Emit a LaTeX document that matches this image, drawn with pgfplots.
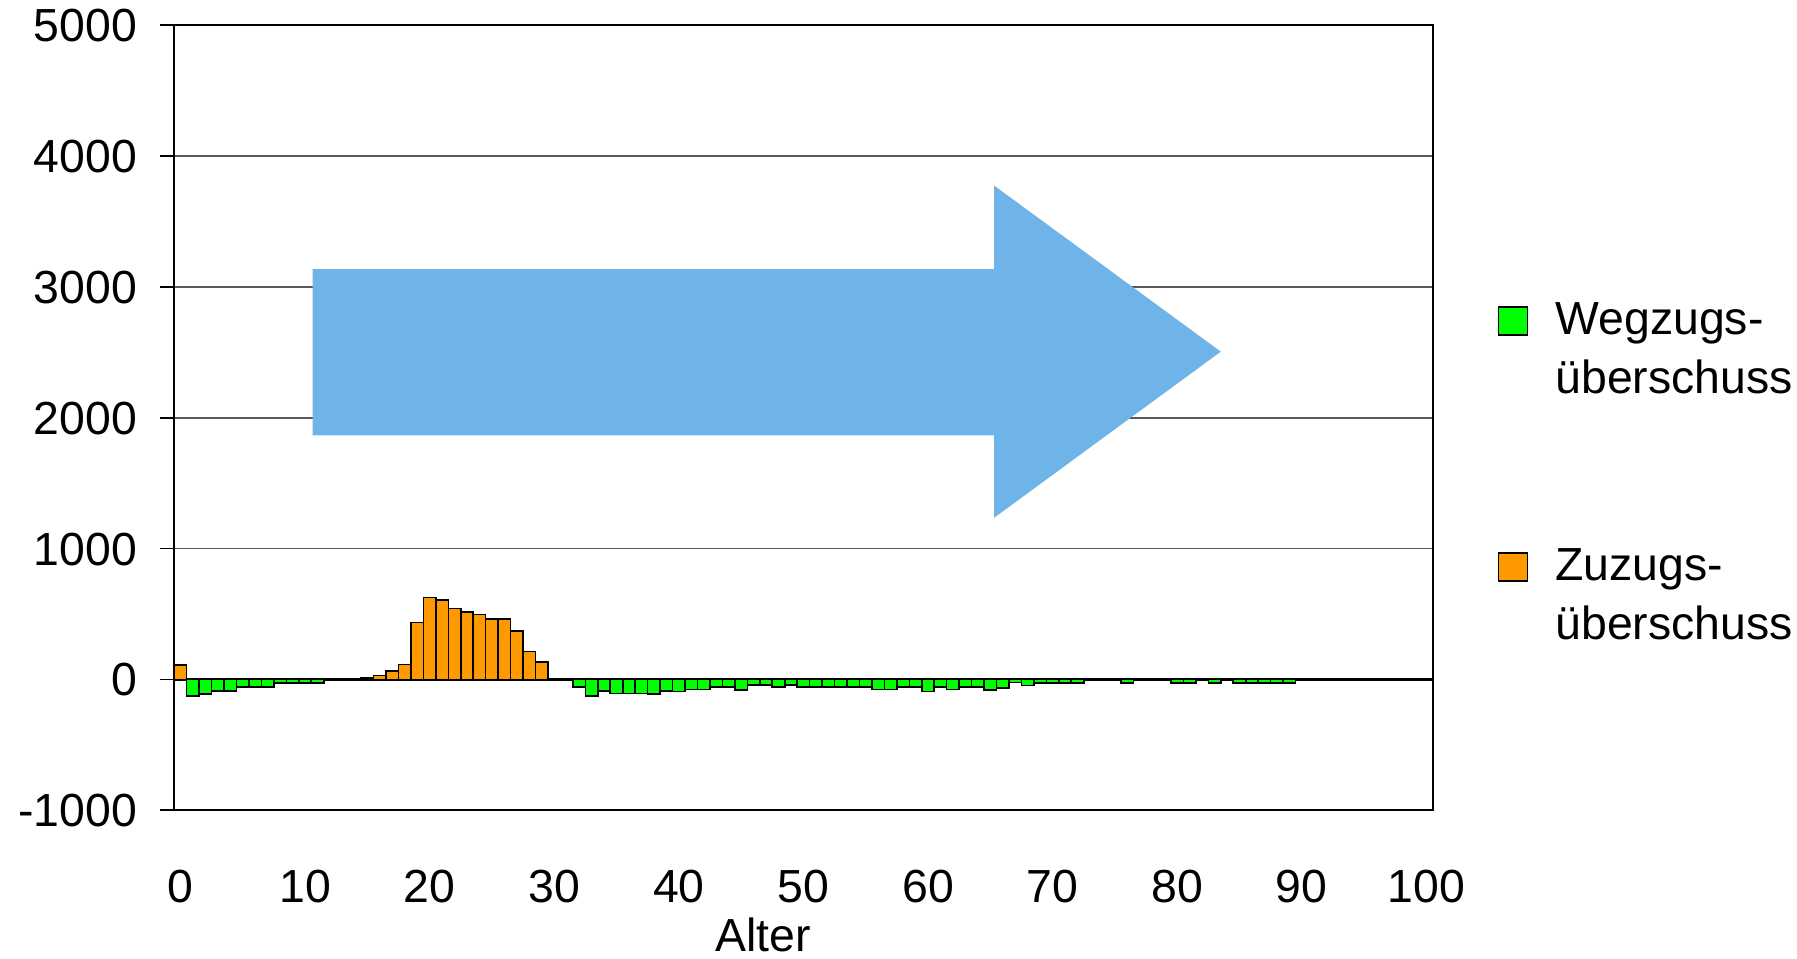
\documentclass[border=0pt]{standalone}
\usepackage{pgfplots}
\pgfplotsset{compat=1.18}
\usepackage{pgfplotstable}
\usepackage{fontspec}
\setmainfont{Liberation Sans}
\definecolor{wegzug}{RGB}{0,255,0}
\definecolor{zuzug}{RGB}{255,153,0}
\definecolor{pfeil}{RGB}{110,180,232}

\pgfplotstableread{
x y
1 -127
2 -110
3 -89
4 -89
5 -59
6 -59
7 -59
8 -28
9 -28
10 -28
11 -28
12 -8
13 -8
14 -8
30 -8
32 -59
33 -127
34 -89
35 -107
36 -107
37 -107
38 -110
39 -89
40 -94
41 -77
42 -77
43 -59
44 -59
45 -80
46 -41
47 -41
48 -59
49 -41
50 -59
51 -59
52 -59
53 -59
54 -59
55 -59
56 -77
57 -77
58 -59
59 -59
60 -94
61 -59
62 -77
63 -59
64 -59
65 -82
66 -64
67 -23
68 -46
69 -28
70 -28
71 -28
72 -28
73 -8
74 -8
75 -8
76 -28
77 -8
78 -8
79 -8
80 -28
81 -28
82 -8
83 -28
84 -8
85 -28
86 -28
87 -28
88 -28
89 -28
90 -8
91 -8
92 -8
93 -8
94 -8
95 -8
96 -8
97 -8
}\wegzugtab

\pgfplotstableread{
x y
0 110
15 12
16 30
17 65
18 115
19 434
20 625
21 607
22 543
23 513
24 497
25 462
26 462
27 370
28 212
29 133
}\zuzugtab

\pgfplotsset{
  sqlegend/.style={legend image code/.code={\draw[##1] (0pt,0pt) rectangle (7.3pt,7pt);}},
}

\begin{document}
\begin{tikzpicture}
\useasboundingbox (0,0) rectangle (449.25pt,239.5pt);
\begin{axis}[
  at={(43.55pt,36.95pt)}, anchor=south west,
  scale only axis, width=314.6pt, height=196.25pt,
  xmin=-0.5, xmax=100.5, ymin=-1000, ymax=5000,
  xtick={0,10,...,100}, ytick={-1000,0,...,5000},
  ytick pos=left,
  ymajorgrids, major grid style={black!65, line width=0.4pt},
  axis line style={black, line width=0.5pt},
  tick align=outside, major tick length=3.5pt,
  xtick style={draw=none}, ytick style={black, line width=0.4pt},
  /pgf/number format/assume math mode=true,
  /pgf/number format/1000 sep={},
  tick label style={font=\fontsize{11.6}{14}\selectfont},
  xticklabel style={anchor=base, yshift=-19.45pt},
  yticklabel style={anchor=base east, xshift=-2.3pt, yshift=-4.15pt},
  xlabel={Alter},
  xlabel style={font=\fontsize{11.6}{14}\selectfont, at={(axis description cs:0.468,0)}, anchor=base, yshift=-35.2pt},
  extra y ticks={0}, extra y tick labels={},
  extra y tick style={major grid style={black, line width=0.6pt}},
  legend cell align=left,
  legend style={at={(axis description cs:1.051,0.6587)}, anchor=north west,
    draw=none, fill=none, inner sep=0pt, row sep=32.3pt, column sep=6.8pt,
    font=\fontsize{11.6}{14.6}\selectfont,
    nodes={inner sep=0pt, anchor=base west, text depth=},
    cells={anchor=base west}},
]
\addplot[ybar, bar width=1, bar shift=0pt, fill=wegzug, draw=black, line width=0.4pt, sqlegend] table {\wegzugtab};
\addlegendentry{\begin{tabular}[t]{@{}l@{}}Wegzugs-\\überschuss\end{tabular}}
\addplot[ybar, bar width=1, bar shift=0pt, fill=zuzug, draw=black, line width=0.4pt, sqlegend] table {\zuzugtab};
\addlegendentry{\begin{tabular}[t]{@{}l@{}}Zuzugs-\\überschuss\end{tabular}}
\addplot[fill=pfeil, draw=none, forget plot, mark=none] coordinates {(10.6,1866) (10.6,3136) (65.3,3136) (65.3,3775) (83.5,2505) (65.3,1235) (65.3,1866)} -- cycle;
\end{axis}
\end{tikzpicture}
\end{document}
